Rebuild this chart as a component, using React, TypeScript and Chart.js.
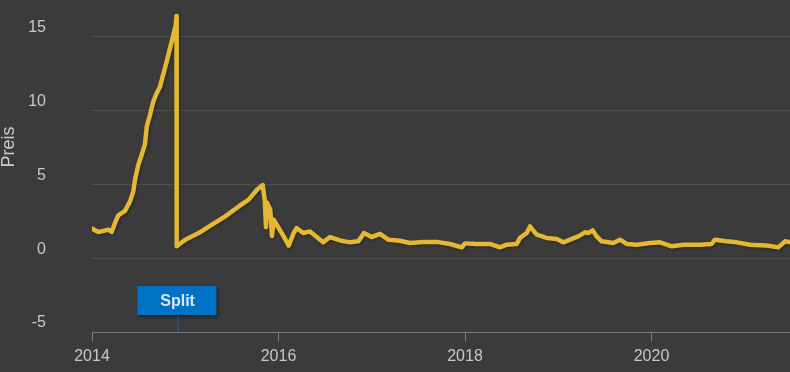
import React, { useEffect, useRef } from "react";
import { Chart, registerables } from "chart.js";

Chart.register(...registerables);

// Fractional years and prices
const years = [
  2014.0, 2014.068, 2014.129, 2014.175, 2014.211, 2014.247, 2014.282, 2014.354, 2014.408, 2014.443,
  2014.461, 2014.497, 2014.533, 2014.568, 2014.587, 2014.622, 2014.657, 2014.694, 2014.729, 2014.754,
  2014.801, 2014.836, 2014.872, 2014.898, 2014.906, 2014.908,
  2015.001, 2015.144, 2015.287, 2015.429, 2015.573, 2015.68, 2015.769, 2015.831, 2015.852, 2015.866,
  2015.877, 2015.912, 2015.93, 2015.949, 2016.002, 2016.056, 2016.109, 2016.163, 2016.194, 2016.266,
  2016.338, 2016.41, 2016.48, 2016.552, 2016.66, 2016.767, 2016.856, 2016.917, 2016.999, 2017.088,
  2017.177, 2017.303, 2017.41, 2017.553, 2017.696, 2017.839, 2017.965, 2018.0, 2018.126, 2018.268,
  2018.375, 2018.447, 2018.555, 2018.59, 2018.662, 2018.697, 2018.769, 2018.876, 2018.983, 2019.054,
  2019.126, 2019.215, 2019.287, 2019.322, 2019.369, 2019.412, 2019.466, 2019.59, 2019.662, 2019.734,
  2019.841, 2019.984, 2020.091, 2020.217, 2020.341, 2020.52, 2020.645, 2020.681, 2020.806, 2020.914,
  2021.056, 2021.235, 2021.36, 2021.432, 2021.485,
];
const prices = [
  2.0, 1.77, 1.85, 1.93, 1.77, 2.38, 2.9, 3.2, 3.84, 4.52,
  5.3, 6.32, 7.0, 7.7, 8.9, 9.7, 10.6, 11.17, 11.6, 12.2,
  13.3, 14.2, 15.1, 15.8, 16.4, 0.8,
  1.25, 1.7, 2.27, 2.83, 3.5, 3.96, 4.63, 4.95, 3.96, 2.1,
  3.75, 3.28, 1.5, 2.6, 2.04, 1.47, 0.85, 1.7, 2.04, 1.7,
  1.81, 1.43, 1.07, 1.43, 1.2, 1.07, 1.14, 1.7, 1.43, 1.64,
  1.25, 1.18, 1.03, 1.1, 1.1, 0.96, 0.73, 1.0, 0.96, 0.96,
  0.73, 0.91, 0.96, 1.37, 1.7, 2.15, 1.59, 1.37, 1.3, 1.07,
  1.25, 1.47, 1.75, 1.7, 1.88, 1.47, 1.14, 1.03, 1.25, 0.96,
  0.91, 1.03, 1.07, 0.8, 0.91, 0.91, 0.96, 1.25, 1.14, 1.07,
  0.91, 0.85, 0.73, 1.14, 1.07,
];
const yTicks = [-5, 0, 5, 10, 15];
const xTicks = [2014, 2016, 2018, 2020];
const splitYear = 2014.907;
const splitLabel = "Split";
const axisTitle = "Preis";

const FONT = "'Liberation Sans', Arial, sans-serif";

export default function App() {
  const ref = useRef<HTMLCanvasElement>(null);

  useEffect(() => {
    const canvas = ref.current;
    if (!canvas) return;

    const bgPlugin = {
      id: "bg",
      beforeDraw(chart: any) {
        const { ctx, width, height } = chart;
        ctx.save();
        ctx.fillStyle = "#3b3b3b";
        ctx.fillRect(0, 0, width, height);
        ctx.restore();
      },
    };

    const shadowPlugin = {
      id: "shadow",
      beforeDatasetsDraw(chart: any) {
        const ctx = chart.ctx;
        ctx.save();
        ctx.shadowColor = "rgba(0,0,0,0.35)";
        ctx.shadowOffsetX = 1;
        ctx.shadowOffsetY = 1;
        ctx.shadowBlur = 3;
      },
      afterDatasetsDraw(chart: any) {
        chart.ctx.restore();
      },
    };

    const flagPlugin = {
      id: "flag",
      afterDraw(chart: any) {
        const { ctx, chartArea } = chart;
        const x = chart.scales.x.getPixelForValue(splitYear);
        const w = 79;
        const h = 29;
        const top = chartArea.bottom - 46;
        ctx.save();
        // stem
        ctx.strokeStyle = "#1d5f99";
        ctx.lineWidth = 1.5;
        ctx.beginPath();
        ctx.moveTo(Math.round(x) + 1, top + h);
        ctx.lineTo(Math.round(x) + 1, chartArea.bottom);
        ctx.stroke();
        // box
        ctx.shadowColor = "rgba(0,0,0,0.45)";
        ctx.shadowOffsetX = 1;
        ctx.shadowOffsetY = 2;
        ctx.shadowBlur = 4;
        ctx.fillStyle = "#0072c6";
        ctx.fillRect(Math.round(x - w / 2) + 0.5, top, w, h);
        ctx.shadowColor = "transparent";
        ctx.fillStyle = "#d6e8f8";
        ctx.font = `bold 16px ${FONT}`;
        ctx.textAlign = "center";
        ctx.textBaseline = "middle";
        ctx.fillText(splitLabel, x + 1, top + h / 2 + 1);
        // axis title
        ctx.translate(9, 147);
        ctx.rotate(-Math.PI / 2);
        ctx.fillStyle = "#cccccc";
        ctx.font = `18px ${FONT}`;
        ctx.fillText(axisTitle, 0, 0);
        ctx.restore();
      },
    };

    const chart = new Chart(canvas, {
      type: "line",
      data: {
        datasets: [
          {
            data: years.map((x, i) => ({ x, y: prices[i] })),
            borderColor: "#e5b833",
            borderWidth: 4.5,
            pointRadius: 0,
            tension: 0,
            borderJoinStyle: "round",
            borderCapStyle: "round",
            fill: false,
          },
        ],
      },
      options: {
        responsive: false,
        animation: false,
        layout: { padding: { top: 10, left: 0, right: 0, bottom: 0 } },
        plugins: { legend: { display: false }, tooltip: { enabled: false } },
        scales: {
          x: {
            type: "linear",
            min: 2014,
            max: 2021.485,
            afterBuildTicks(scale: any) {
              scale.ticks = xTicks.map((v) => ({ value: v }));
            },
            afterFit(scale: any) {
              scale.height = 40;
              scale.paddingLeft = 0;
              scale.paddingRight = 0;
            },
            grid: {
              drawOnChartArea: false,
              drawTicks: true,
              tickLength: 10,
              color: "#7a7d88",
            },
            border: { display: true, color: "#7a7d88", width: 1 },
            ticks: {
              color: "#c8c8c8",
              font: { family: FONT, size: 16 },
              padding: 5,
              maxRotation: 0,
              callback: (v: any) => String(v),
            },
          },
          y: {
            type: "linear",
            min: -5,
            max: 16.8,
            afterBuildTicks(scale: any) {
              scale.ticks = yTicks.map((v) => ({ value: v }));
            },
            afterFit(scale: any) {
              scale.width = 92;
              scale.paddingTop = 0;
              scale.paddingBottom = 0;
            },
            grid: {
              drawTicks: false,
              color: "#505050",
              lineWidth: 1,
            },
            border: { display: false },
            ticks: {
              color: "#c8c8c8",
              font: { family: FONT, size: 16 },
              padding: 46,
              labelOffset: -9,
              callback: (v: any) => String(v),
            },
          },
        },
      },
      plugins: [bgPlugin, shadowPlugin, flagPlugin],
    } as any);

    return () => chart.destroy();
  }, []);

  return (
    <div style={{ position: "fixed", left: 0, top: 0, width: 790, height: 372 }}>
      <canvas ref={ref} width={790} height={372} style={{ display: "block" }} />
    </div>
  );
}
